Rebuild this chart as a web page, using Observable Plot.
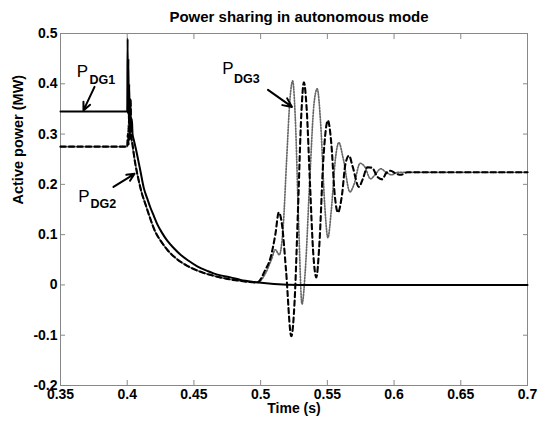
<!DOCTYPE html>
<html>
<head>
<meta charset="utf-8">
<script src="https://cdn.jsdelivr.net/npm/d3@7"></script>
<script src="https://cdn.jsdelivr.net/npm/@observablehq/plot@0.6"></script>
<style>
  html, body { margin: 0; padding: 0; background: #fff; }
  svg { font-family: "Liberation Sans", Arial, sans-serif; }
</style>
</head>
<body>
<div id="chart"></div>
<script>
// ---- Data ----
const titleText = "Power sharing in autonomous mode";
const xLabel = "Time (s)";
const yLabel = "Active power (MW)";
const xTicks = [0.35, 0.4, 0.45, 0.5, 0.55, 0.6, 0.65, 0.7];
const yTicks = [-0.2, -0.1, 0, 0.1, 0.2, 0.3, 0.4, 0.5];

// P_DG1 (solid)
const tDG1 = [0.35, 0.4, 0.4003, 0.4006, 0.4009, 0.4012, 0.4015, 0.4019, 0.4023, 0.4028, 0.4035, 0.404, 0.405,
  0.4075, 0.41, 0.4124, 0.415, 0.4175, 0.42, 0.4225, 0.426, 0.43, 0.435, 0.44, 0.446, 0.4525, 0.46, 0.4647,
  0.47, 0.4774, 0.485, 0.495, 0.51, 0.53, 0.7];
const pDG1 = [0.345, 0.345, 0.49, 0.34, 0.45, 0.33, 0.40, 0.32, 0.37, 0.31, 0.33, 0.30, 0.288,
  0.258, 0.225, 0.193, 0.172, 0.153, 0.137, 0.121, 0.104, 0.088, 0.073, 0.06, 0.048, 0.037, 0.028, 0.023,
  0.019, 0.015, 0.01, 0.006, 0.002, 0.0, 0.0];

// P_DG2 (dashed)
const tDG2 = [0.35, 0.4, 0.4005, 0.401, 0.4015, 0.402, 0.4025, 0.403, 0.404, 0.4055, 0.408, 0.411, 0.414,
  0.417, 0.421, 0.425, 0.43, 0.437, 0.445, 0.455, 0.465, 0.475, 0.485, 0.4975, 0.5035, 0.5074, 0.511,
  0.5136, 0.516, 0.519, 0.523, 0.5255, 0.528, 0.5305, 0.5324, 0.5345, 0.537, 0.5395, 0.5417, 0.544,
  0.547, 0.5504, 0.553, 0.5555, 0.5579, 0.561, 0.5635, 0.5662, 0.569, 0.5736, 0.5765, 0.58, 0.5835,
  0.5875, 0.5911, 0.594, 0.5974, 0.601, 0.605, 0.61, 0.7];
const pDG2 = [0.275, 0.275, 0.30, 0.28, 0.34, 0.29, 0.37, 0.30, 0.28, 0.25, 0.215, 0.182, 0.158,
  0.134, 0.106, 0.088, 0.07, 0.052, 0.038, 0.026, 0.018, 0.012, 0.008, 0.005, 0.03, 0.054, 0.10,
  0.144, 0.12, 0.03, -0.102, -0.03, 0.15, 0.34, 0.403, 0.35, 0.20, 0.06, 0.015, 0.08,
  0.25, 0.327, 0.28, 0.18, 0.144, 0.18, 0.24, 0.257, 0.235, 0.195, 0.21, 0.234, 0.233,
  0.215, 0.21, 0.222, 0.227, 0.222, 0.219, 0.224, 0.224];

// P_DG3 (dotted)
const tDG3 = [0.35, 0.4, 0.401, 0.403, 0.4055, 0.408, 0.411, 0.414, 0.417, 0.421, 0.425, 0.43, 0.437,
  0.445, 0.455, 0.465, 0.475, 0.485, 0.4975, 0.503, 0.508, 0.511, 0.514, 0.517, 0.5195, 0.522, 0.524,
  0.526, 0.5285, 0.531, 0.5335, 0.537, 0.54, 0.5424, 0.545, 0.548, 0.5504, 0.553, 0.556, 0.5586,
  0.562, 0.5669, 0.57, 0.5745, 0.578, 0.5824, 0.586, 0.59, 0.594, 0.598, 0.603, 0.7];
const pDG3 = [0.275, 0.275, 0.32, 0.29, 0.25, 0.215, 0.182, 0.158, 0.134, 0.106, 0.088, 0.07, 0.052,
  0.038, 0.026, 0.018, 0.012, 0.008, 0.005, 0.02, 0.05, 0.07, 0.06, 0.12, 0.25, 0.37, 0.406,
  0.33, 0.12, -0.038, 0.03, 0.22, 0.36, 0.39, 0.32, 0.16, 0.094, 0.15, 0.25, 0.283,
  0.25, 0.185, 0.20, 0.242, 0.235, 0.211, 0.22, 0.231, 0.224, 0.219, 0.224, 0.224];

// Annotations
const annSub = ["DG1", "DG2", "DG3"];
const annPt = [0.3665, 0.3676, 0.4755];
const annPv = [0.424, 0.175, 0.43];
const annSt = [0.3717, 0.3725, 0.48];
const annSv = [0.408, 0.161, 0.41];
const arrT1 = [0.3755, 0.3897, 0.5055];
const arrV1 = [0.394, 0.195, 0.388];
const arrT2 = [0.3672, 0.4055, 0.5235];
const arrV2 = [0.347, 0.221, 0.354];

// ---- Build tables ----
const s1 = tDG1.map((t, i) => ({t, p: pDG1[i]}));
const s2 = tDG2.map((t, i) => ({t, p: pDG2[i]}));
const s3 = tDG3.map((t, i) => ({t, p: pDG3[i]}));
const ann = annSub.map((s, i) => ({s, pt: annPt[i], pv: annPv[i], st: annSt[i], sv: annSv[i],
  t1: arrT1[i], v1: arrV1[i], t2: arrT2[i], v2: arrV2[i]}));

const fmt = d => String(d);

const chart = Plot.plot({
  width: 544,
  height: 424,
  marginLeft: 60,
  marginRight: 17,
  marginTop: 33,
  marginBottom: 39,
  style: {fontFamily: "Liberation Sans, Arial, sans-serif", background: "#fff", color: "#000"},
  x: {domain: [0.35, 0.7]},
  y: {domain: [-0.2, 0.5]},
  marks: [
    Plot.frame({stroke: "#888", strokeWidth: 1}),
    Plot.axisX({anchor: "bottom", ticks: xTicks, tickSize: -5, tickPadding: 9, stroke: "#888",
      tickFormat: fmt, fontSize: 14, fontWeight: "bold", label: null}),
    Plot.axisX({anchor: "top", ticks: xTicks, tickSize: -5, stroke: "#888", tickFormat: () => "", label: null}),
    Plot.axisY({anchor: "left", ticks: yTicks, tickSize: -5, tickPadding: 8, stroke: "#888",
      tickFormat: fmt, fontSize: 14, fontWeight: "bold", label: null}),
    Plot.axisY({anchor: "right", ticks: yTicks, tickSize: -5, stroke: "#888", tickFormat: () => "", label: null}),
    Plot.line(s3, {x: "t", y: "p", stroke: "#666", strokeWidth: 1.7, strokeDasharray: "1.2,1.6", curve: "monotone-x"}),
    Plot.line(s1, {x: "t", y: "p", stroke: "#000", strokeWidth: 2, curve: "monotone-x"}),
    Plot.line(s2, {x: "t", y: "p", stroke: "#000", strokeWidth: 2.1, strokeDasharray: "5,3.5", curve: "monotone-x"}),
    Plot.arrow(ann, {x1: "t1", y1: "v1", x2: "t2", y2: "v2", stroke: "#000", strokeWidth: 2, headLength: 8, headAngle: 50}),
    Plot.text(ann, {x: "pt", y: "pv", text: () => "P", fontSize: 17, textAnchor: "middle", fill: "#000"}),
    Plot.text(ann, {x: "st", y: "sv", text: "s", fontSize: 12.5, fontWeight: "bold", textAnchor: "start", fill: "#000"}),
    Plot.text([titleText], {frameAnchor: "top", dx: 5, dy: -22, text: d => d, fontSize: 15, fontWeight: "bold", fill: "#000"}),
    Plot.text([xLabel], {frameAnchor: "bottom", dy: 27, text: d => d, fontSize: 14, fontWeight: "bold", fill: "#000"}),
    Plot.text([yLabel], {frameAnchor: "left", dx: -42, dy: -5, rotate: -90, text: d => d, fontSize: 14.5, fontWeight: "bold", fill: "#000"})
  ]
});
document.getElementById("chart").appendChild(chart);
</script>
</body>
</html>
